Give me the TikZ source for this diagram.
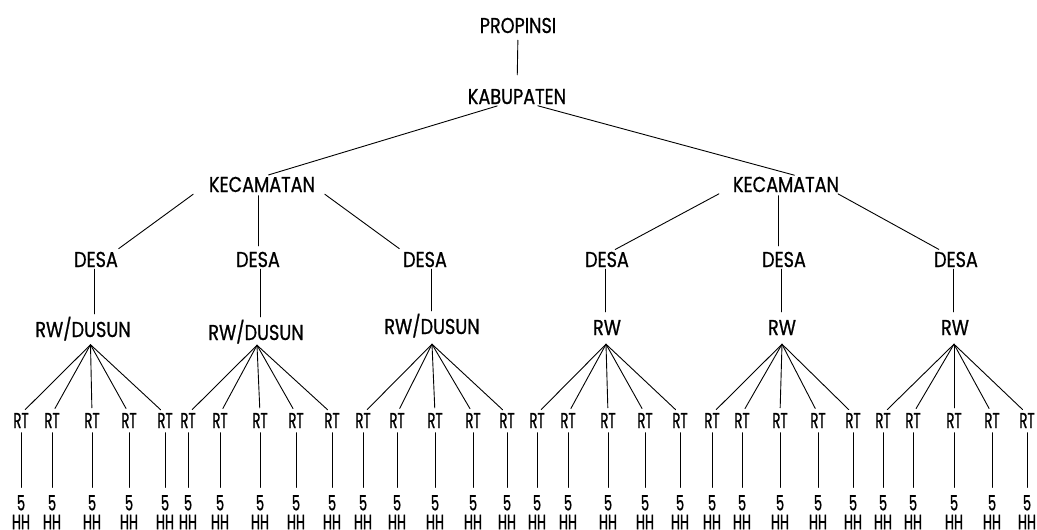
\documentclass[tikz,border=0pt]{standalone}
\usepackage{fontspec}
\setmainfont{Poppins}[FakeStretch=0.82, FakeBold=0.8]
\newfontfamily\unitfont{Poppins}[FakeStretch=0.62, FakeBold=0.8]
\begin{document}
\begin{tikzpicture}[x=1pt,y=-1pt,
  lbl/.style={inner sep=0pt, text height=14pt, text depth=0pt,
              font=\fontsize{21.5}{22}\selectfont},
  unit/.style={lbl, font=\unitfont\fontsize{21.5}{22}\selectfont},
  house/.style={inner sep=0pt, anchor=north, align=center,
                font=\unitfont\fontsize{21}{19}\selectfont},
  link/.style={line width=0.9pt, line cap=round},
  up/.style={link, shorten <=6pt, shorten >=10pt},
  mid/.style={link, shorten <=3.5pt, shorten >=7pt},
  low/.style={link, shorten <=2pt, shorten >=9pt},
  fan/.style={link, shorten >=6pt},
  leaf/.style={link, shorten <=4.5pt, shorten >=7.5pt}]
\useasboundingbox (0,0) rectangle (1037,530);

% administrative levels
\node[lbl] (prop) at (518,26) {PROPINSI};
\node[lbl] (kab)  at (517,97) {KABUPATEN};
\node[lbl] (kec1) at (262,185) {KECAMATAN};
\node[lbl] (kec2) at (786,185) {KECAMATAN};

\node[lbl] (desa1) at (96,260)  {DESA};
\node[lbl] (desa2) at (258,260) {DESA};
\node[lbl] (desa3) at (425,260) {DESA};
\node[lbl] (desa4) at (607,260) {DESA};
\node[lbl] (desa5) at (784,260) {DESA};
\node[lbl] (desa6) at (956,260) {DESA};

\node[lbl] (rw1) at (83,330)  {RW/DUSUN};
\node[lbl] (rw2) at (256,333) {RW/DUSUN};
\node[lbl] (rw3) at (432,327) {RW/DUSUN};
\node[lbl] (rw4) at (607,328) {RW};
\node[lbl] (rw5) at (782,328) {RW};
\node[lbl] (rw6) at (955,328) {RW};

% RT units, each with its five households
\foreach \x [count=\i] in {21,52,92,129,165, 188,220,260,296,332,
                           363,397,435,473,507, 537,568,608,645,680,
                           712,742,780,818,853, 883,913,954,992,1027}{
  \node[unit] (rt\i) at (\x,421) {RT};
  \node[house] (hh\i) at (\x,495) {5\\HH};
  \draw[leaf] (rt\i.south) -- (hh\i.north);
}

% upper connectors
\draw[link, shorten <=7pt, shorten >=15pt] (prop.south) -- (kab.north);
\draw[up] ([xshift=-14pt]kab.south) -- ([xshift=-3pt]kec1.north);
\draw[up] ([xshift=15pt]kab.south)  -- ([xshift=18pt]kec2.north);

\draw[mid] ([xshift=-66pt]kec1.south) -- ([xshift=17pt]desa1.north);
\draw[mid] ([xshift=-4pt]kec1.south)  -- (desa2.north);
\draw[mid] ([xshift=60pt]kec1.south)  -- ([xshift=-20pt]desa3.north);
\draw[mid] ([xshift=-64pt]kec2.south) -- ([xshift=2pt]desa4.north);
\draw[mid] ([xshift=-8pt]kec2.south)  -- ([xshift=-6pt]desa5.north);
\draw[mid] ([xshift=49pt]kec2.south)  -- ([xshift=-11pt]desa6.north);

\draw[low] ([xshift=-2pt]desa1.south) -- ([xshift=11pt]rw1.north);
\draw[low] ([xshift=2pt]desa2.south)  -- ([xshift=4pt]rw2.north);
\draw[low] ([xshift=6pt]desa3.south)  -- ([xshift=-1pt]rw3.north);
\draw[low] ([xshift=-2pt]desa4.south) -- ([xshift=-2pt]rw4.north);
\draw[low] ([xshift=-3pt]desa5.south) -- ([xshift=-1pt]rw5.north);
\draw[low] ([xshift=-3pt]desa6.south) -- ([xshift=-2pt]rw6.north);

% fan-out points below each RW
\path (rw1.south) ++(7.5,7.5) coordinate (ap1);
\path (rw2.south) ++(1,5)     coordinate (ap2);
\path (rw3.south) ++(0,10)    coordinate (ap3);
\path (rw4.south) ++(-1,9)    coordinate (ap4);
\path (rw5.south) ++(0,9)     coordinate (ap5);
\path (rw6.south) ++(-1,9)    coordinate (ap6);

\foreach \g in {1,...,6}{
  \foreach \k in {1,...,5}{
    \pgfmathtruncatemacro{\j}{(\g-1)*5+\k}
    \draw[fan] (ap\g) -- (rt\j.north);
  }
}
\end{tikzpicture}
\end{document}
